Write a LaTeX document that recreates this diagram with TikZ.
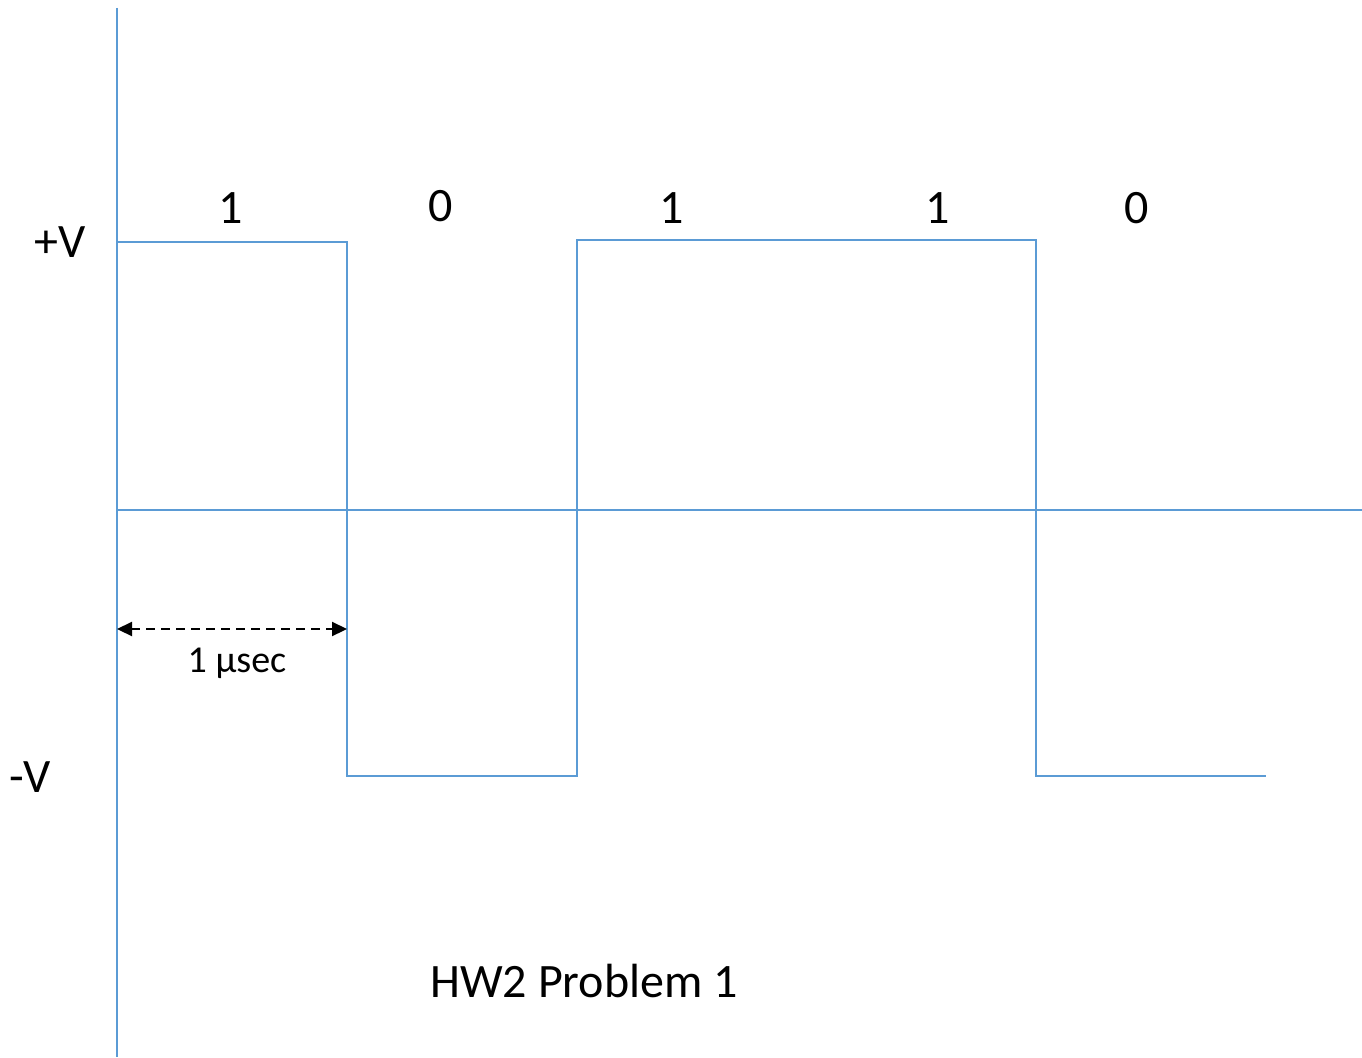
\documentclass[tikz,border=0pt]{standalone}
\usepackage{fontspec}
\setmainfont{Carlito}
\usetikzlibrary{arrows.meta}
\definecolor{sig}{RGB}{91,155,213}
\begin{document}
\begin{tikzpicture}[x=1pt,y=-1pt,
  sigline/.style={draw=sig,line width=1.5pt},
  biglabel/.style={font=\fontsize{48}{57}\selectfont,inner sep=0pt},
  smalllabel/.style={font=\fontsize{38}{45}\selectfont,inner sep=0pt},
  dimarrow/.style={draw=black,line width=2.2pt,dash pattern=on 9pt off 6pt,
    {Triangle[length=15pt,width=14pt]}-{Triangle[length=15pt,width=14pt]}}]
\useasboundingbox[fill=white] (0,0) rectangle (1362,1057);
% axes
\coordinate (ytop) at (117,8);
\coordinate (ybot) at (117,1057);
\coordinate (xleft) at (117,510);
\coordinate (xright) at (1362,510);
\draw[sigline] (ytop) -- (ybot);
\draw[sigline] (xleft) -- (xright);
% signal
\coordinate (s0) at (117,242);
\coordinate (s1) at (347,242);
\coordinate (s2) at (347,776);
\coordinate (s3) at (577,776);
\coordinate (s4) at (577,240);
\coordinate (s5) at (1036,240);
\coordinate (s6) at (1036,776);
\coordinate (s7) at (1266,776);
\draw[sigline] (s0) -- (s1) -- (s2) -- (s3) -- (s4) -- (s5) -- (s6) -- (s7);
% bit labels
\node[biglabel] (b1) at (231,208) {1};
\node[biglabel] (b2) at (441,206) {0};
\node[biglabel] (b3) at (672,208) {1};
\node[biglabel] (b4) at (938,208) {1};
\node[biglabel] (b5) at (1137,208) {0};
% level labels
\node[biglabel] (pv) at (60,242) {+V};
\node[biglabel] (nv) at (30,777) {-V};
% duration
\coordinate (da) at (117,629);
\coordinate (db) at (347,629);
\draw[dimarrow] (da) -- (db);
\node[smalllabel] (dl) at (237,663) {1 μsec};
% title
\node[biglabel] (title) at (584,981) {HW2 Problem 1};
\end{tikzpicture}
\end{document}
